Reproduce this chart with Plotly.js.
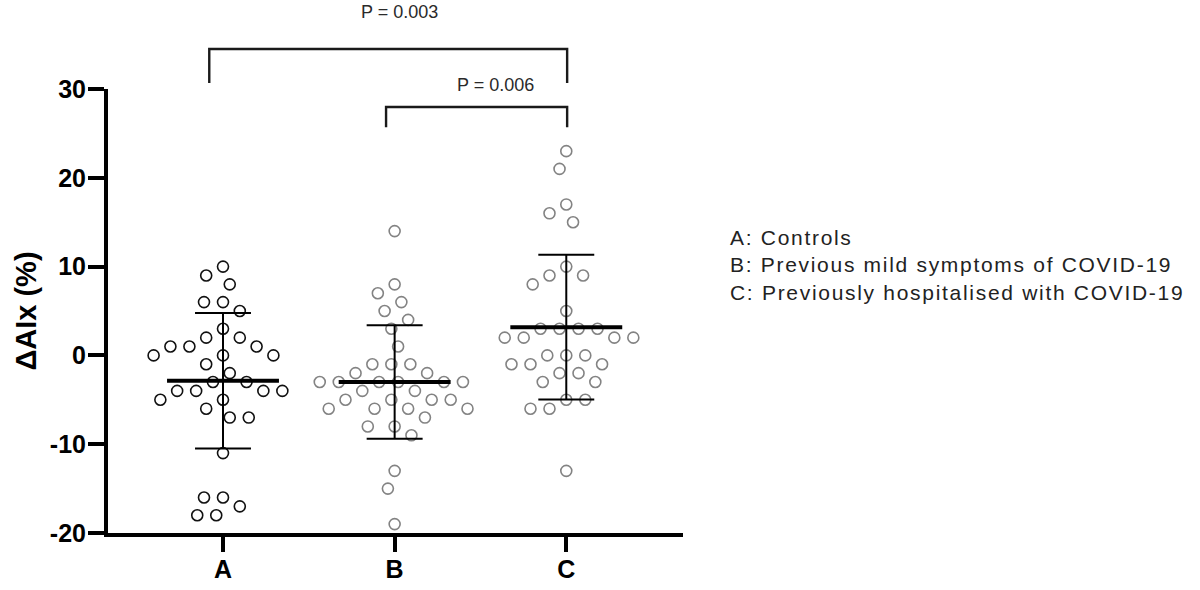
<!DOCTYPE html>
<html>
<head>
<meta charset="utf-8">
<script src="https://cdn.plot.ly/plotly-3.0.1.min.js"></script>
<style>
  body { margin: 0; background: #fff; }
  #chart { width: 1200px; height: 590px; }
  /* the group key on the right is drawn with wide letter spacing */
  .annotation[data-index="2"] text { letter-spacing: 1.7px; }
</style>
</head>
<body>
<div id="chart"></div>
<script>
// groups on the x axis
var groups = ['A', 'B', 'C'];
var groupNames = ['Controls', 'Previous mild symptoms of COVID-19', 'Previously hospitalised with COVID-19'];

// delta AIx (%) for every subject
var controls = [10, 9, 8, 6, 6, 5, 3, 2, 2, 1, 1, 1, 0, 0, 0, -1, -2, -3, -3, -4, -4, -4, -4,
                -5, -5, -6, -7, -7, -11, -16, -16, -17, -18, -18];
var mild = [14, 8, 7, 6, 5, 4, 3, 1, -1, -1, -1, -2, -2, -3, -3, -3, -3, -3, -3, -4, -4,
            -5, -5, -5, -5, -6, -6, -6, -6, -7, -8, -8, -9, -13, -15, -19];
var hospitalised = [23, 21, 17, 16, 15, 10, 9, 9, 8, 5, 3, 3, 3, 3, 2, 2, 2, 2, 0, 0, 0,
                    -1, -1, -1, -2, -2, -3, -3, -5, -5, -6, -6, -13];

// pairwise comparisons shown with brackets
var comparisons = [
  {from: 0, to: 2, label: 'P = 0.003'},
  {from: 1, to: 2, label: 'P = 0.006'}
];

var yTicks = [-20, -10, 0, 10, 20, 30];

var W = 1200, H = 590;
var margin = {l: 108, r: 517, t: 89, b: 57};
var xRange = [-0.67, 2.68];
var yRange = [-20, 30];
var plotW = W - margin.l - margin.r;
var plotH = H - margin.t - margin.b;
var pxPerX = plotW / (xRange[1] - xRange[0]);
var pxPerY = plotH / (yRange[1] - yRange[0]);

function mean(arr) {
  var s = 0;
  arr.forEach(function(v) { s += v; });
  return s / arr.length;
}

function sd(arr) {
  var m = mean(arr), s = 0;
  arr.forEach(function(v) { s += (v - m) * (v - m); });
  return Math.sqrt(s / (arr.length - 1));
}

// simple beeswarm: put each point as near the centre as it can go without touching the others
function swarm(values, gap) {
  var order = values.map(function(v, i) { return i; });
  order.sort(function(a, b) { return values[b] - values[a]; });
  var placed = [];
  var offsets = new Array(values.length);
  order.forEach(function(i) {
    var y = values[i] * pxPerY;
    var cands = [0];
    placed.forEach(function(p) {
      var dy = Math.abs(p.y - y);
      if (dy < gap) {
        var dx = Math.sqrt(gap * gap - dy * dy);
        cands.push(p.x - dx, p.x + dx);
      }
    });
    cands.sort(function(a, b) { return Math.abs(a) - Math.abs(b) || a - b; });
    for (var k = 0; k < cands.length; k++) {
      var c = cands[k];
      var ok = placed.every(function(p) {
        var dx = p.x - c, dy = p.y - y;
        return dx * dx + dy * dy >= gap * gap - 0.01;
      });
      if (ok) {
        placed.push({x: c, y: y});
        offsets[i] = c;
        break;
      }
    }
  });
  return offsets;
}

var series = [controls, mild, hospitalised];
var pointColors = ['#111111', '#838383', '#838383'];

var traces = [];

series.forEach(function(vals, g) {
  var offs = swarm(vals, 19);
  traces.push({
    type: 'scatter',
    mode: 'markers',
    name: groups[g],
    x: offs.map(function(o) { return g + o / pxPerX; }),
    y: vals,
    marker: {symbol: 'circle-open', size: 11, color: pointColors[g], line: {width: 1.6}},
    hoverinfo: 'y',
    showlegend: false,
    cliponaxis: false
  });
});

// mean and SD bars on top of the points
series.forEach(function(vals, g) {
  var m = mean(vals), s = sd(vals);
  var mw = 0.326, cw = 0.163;
  traces.push({
    type: 'scatter', mode: 'lines',
    x: [g - mw, g + mw], y: [m, m],
    line: {color: '#000', width: 4},
    hoverinfo: 'skip', showlegend: false
  });
  traces.push({
    type: 'scatter', mode: 'lines',
    x: [g, g, null, g - cw, g + cw, null, g - cw, g + cw],
    y: [m - s, m + s, null, m + s, m + s, null, m - s, m - s],
    line: {color: '#000', width: 2},
    hoverinfo: 'skip', showlegend: false
  });
});

// brackets above the groups
var bracketLevels = [
  {top: 1.090, foot: 1.0135, textY: 1.173, textX: 1.03},
  {top: 0.9595, foot: 0.914, textY: 1.009, textX: 1.59}
];
var shapes = [];
var annotations = [];
comparisons.forEach(function(c, i) {
  var lv = bracketLevels[i];
  var x0 = c.from - (i === 0 ? 0.08 : 0.05);
  var x1 = c.to + 0.005;
  shapes.push({
    type: 'path', xref: 'x', yref: 'paper',
    path: 'M' + x0 + ',' + lv.foot + ' L' + x0 + ',' + lv.top + ' L' + x1 + ',' + lv.top + ' L' + x1 + ',' + lv.foot,
    line: {color: '#1a1a1a', width: 2.4}
  });
  annotations.push({
    xref: 'x', yref: 'paper', x: lv.textX, y: lv.textY,
    text: c.label, showarrow: false,
    xanchor: 'center', yanchor: 'middle',
    font: {family: 'Liberation Sans, Arial, sans-serif', size: 18, color: '#2a2a2a'}
  });
});

annotations.push({
  xref: 'paper', yref: 'paper', x: 1.078, y: 0.604,
  xanchor: 'left', yanchor: 'middle', align: 'left',
  showarrow: false,
  text: groups.map(function(g, i) { return g + ': ' + groupNames[i]; }).join('<br>'),
  font: {family: 'Liberation Sans, Arial, sans-serif', size: 21, color: '#222'}
});

var layout = {
  width: W, height: H,
  margin: margin,
  paper_bgcolor: '#fff',
  plot_bgcolor: '#fff',
  font: {family: 'Liberation Sans, Arial, sans-serif', color: '#000'},
  showlegend: false,
  xaxis: {
    range: xRange,
    tickmode: 'array',
    tickvals: [0, 1, 2],
    ticktext: groups,
    showgrid: false, zeroline: false,
    showline: true, linecolor: '#000', linewidth: 4,
    ticks: 'outside', ticklen: 15, tickwidth: 4, tickcolor: '#000',
    ticklabelstandoff: -4,
    tickfont: {size: 25, weight: 'bold', color: '#000'}
  },
  yaxis: {
    range: yRange,
    tickmode: 'array',
    tickvals: yTicks,
    ticktext: yTicks.map(String),
    showgrid: false, zeroline: false,
    showline: true, linecolor: '#000', linewidth: 4,
    ticks: 'outside', ticklen: 16, tickwidth: 4, tickcolor: '#000',
    ticklabelstandoff: -3,
    tickfont: {size: 25, weight: 'bold', color: '#000'},
    title: {text: 'ΔAIx (%)', font: {size: 29, weight: 'bold', color: '#000'}, standoff: 6}
  },
  shapes: shapes,
  annotations: annotations
};

Plotly.newPlot('chart', traces, layout, {displayModeBar: false, staticPlot: true});
</script>
</body>
</html>
